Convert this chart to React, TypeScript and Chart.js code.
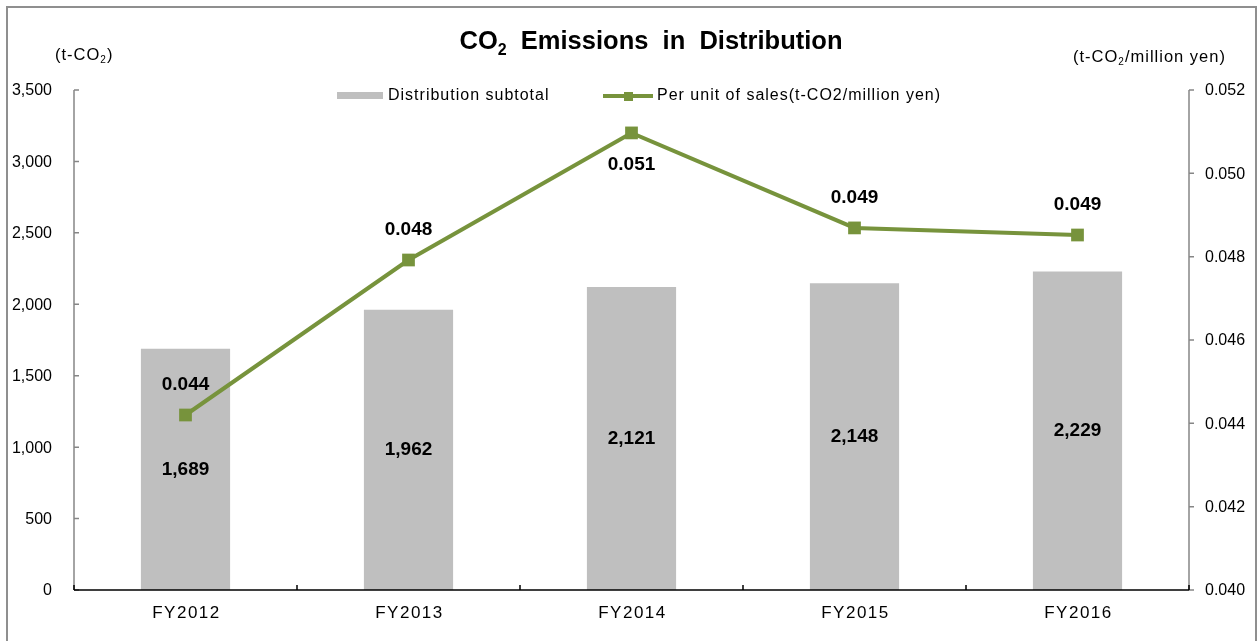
import React, { useEffect, useRef } from "react";
import { Chart, registerables } from "chart.js";

Chart.register(...registerables);

const categories = ["FY2012", "FY2013", "FY2014", "FY2015", "FY2016"];
const distributionSubtotal = [1689, 1962, 2121, 2148, 2229];
const perUnitOfSales = [0.0442, 0.04792, 0.05097, 0.04869, 0.04852];
const lineLabelSide = ["above", "above", "below", "above", "above"];
const leftAxisRange = { min: 0, max: 3500, step: 500 };
const rightAxisRange = { min: 0.04, max: 0.052, step: 0.002 };

const FONT = '"Liberation Sans", Arial, sans-serif';
const BAR_COLOR = "#BFBFBF";
const LINE_COLOR = "#77933C";
const AXIS_GRAY = "#868686";

type Part = { text: string; sub?: boolean };

function drawRich(
  ctx: CanvasRenderingContext2D,
  parts: Part[],
  x: number,
  y: number,
  size: number,
  weight: string,
  align: "left" | "center",
  spacing: number
) {
  const subSize = Math.round(size * 0.62);
  (ctx as any).letterSpacing = `${spacing}px`;
  const widths = parts.map((p) => {
    ctx.font = `${weight} ${p.sub ? subSize : size}px ${FONT}`;
    return ctx.measureText(p.text).width;
  });
  const total = widths.reduce((a, b) => a + b, 0);
  let cx = align === "center" ? x - total / 2 : x;
  ctx.textAlign = "left";
  ctx.textBaseline = "middle";
  parts.forEach((p, i) => {
    ctx.font = `${weight} ${p.sub ? subSize : size}px ${FONT}`;
    ctx.fillText(p.text, cx, p.sub ? y + size * 0.32 : y);
    cx += widths[i];
  });
  (ctx as any).letterSpacing = "0px";
}

const decorPlugin = {
  id: "decor",
  afterDatasetsDraw(chart: any) {
    const ctx: CanvasRenderingContext2D = chart.ctx;
    const { chartArea } = chart;
    const xs = chart.scales.x;
    const yL = chart.scales.y;
    const yR = chart.scales.y1;
    ctx.save();

    // axes
    ctx.lineWidth = 1.5;
    ctx.strokeStyle = AXIS_GRAY;
    ctx.beginPath();
    ctx.moveTo(chartArea.left, chartArea.top);
    ctx.lineTo(chartArea.left, chartArea.bottom);
    ctx.moveTo(chartArea.right, chartArea.top);
    ctx.lineTo(chartArea.right, chartArea.bottom);
    yL.ticks.forEach((t: any) => {
      const py = yL.getPixelForValue(t.value);
      ctx.moveTo(chartArea.left, py);
      ctx.lineTo(chartArea.left + 5, py);
    });
    yR.ticks.forEach((t: any) => {
      const py = yR.getPixelForValue(t.value);
      ctx.moveTo(chartArea.right, py);
      ctx.lineTo(chartArea.right + 5, py);
    });
    ctx.stroke();

    ctx.strokeStyle = "#000";
    ctx.beginPath();
    ctx.moveTo(chartArea.left, chartArea.bottom);
    ctx.lineTo(chartArea.right, chartArea.bottom);
    const catW = (chartArea.right - chartArea.left) / categories.length;
    for (let i = 0; i <= categories.length; i++) {
      const px = chartArea.left + i * catW;
      ctx.moveTo(px, chartArea.bottom);
      ctx.lineTo(px, chartArea.bottom - 5);
    }
    ctx.stroke();

    // tick labels
    ctx.fillStyle = "#000";
    ctx.font = `16px ${FONT}`;
    ctx.textBaseline = "middle";
    ctx.textAlign = "right";
    yL.ticks.forEach((t: any) => {
      ctx.fillText(
        t.value.toLocaleString("en-US"),
        chartArea.left - 22,
        yL.getPixelForValue(t.value) + 1
      );
    });
    ctx.textAlign = "left";
    yR.ticks.forEach((t: any) => {
      ctx.fillText(
        t.value.toFixed(3),
        chartArea.right + 16,
        yR.getPixelForValue(t.value) + 1
      );
    });
    ctx.textAlign = "center";
    ctx.font = `17px ${FONT}`;
    (ctx as any).letterSpacing = "1.5px";
    categories.forEach((c, i) => {
      ctx.fillText(c, xs.getPixelForValue(i) + 1, chartArea.bottom + 23);
    });
    (ctx as any).letterSpacing = "0px";

    // title
    ctx.fillStyle = "#000";
    drawRich(
      ctx,
      [
        { text: "CO" },
        { text: "2", sub: true },
        { text: "  Emissions  in  Distribution" },
      ],
      643,
      34,
      25.5,
      "bold",
      "center",
      0
    );
    // units
    drawRich(
      ctx,
      [{ text: "(t-CO" }, { text: "2", sub: true }, { text: ")" }],
      47,
      47,
      16.5,
      "normal",
      "left",
      1
    );
    drawRich(
      ctx,
      [
        { text: "(t-CO" },
        { text: "2", sub: true },
        { text: "/million yen)" },
      ],
      1065,
      49,
      16.5,
      "normal",
      "left",
      1
    );

    // legend
    ctx.fillStyle = BAR_COLOR;
    ctx.fillRect(329, 84, 46, 7);
    ctx.strokeStyle = LINE_COLOR;
    ctx.lineWidth = 4;
    ctx.beginPath();
    ctx.moveTo(595, 88);
    ctx.lineTo(645, 88);
    ctx.stroke();
    ctx.fillStyle = LINE_COLOR;
    ctx.fillRect(616, 84, 9, 9);
    ctx.fillStyle = "#000";
    drawRich(ctx, [{ text: "Distribution subtotal" }], 380, 88, 16, "normal", "left", 1);
    drawRich(
      ctx,
      [{ text: "Per unit of sales(t-CO2/million yen)" }],
      649,
      88,
      16,
      "normal",
      "left",
      1
    );

    // data labels
    ctx.font = `bold 19px ${FONT}`;
    ctx.textAlign = "center";
    ctx.textBaseline = "middle";
    const barMeta = chart.getDatasetMeta(0);
    barMeta.data.forEach((el: any, i: number) => {
      const mid = (el.y + el.base) / 2;
      ctx.fillText(distributionSubtotal[i].toLocaleString("en-US"), el.x, mid);
    });
    const lineMeta = chart.getDatasetMeta(1);
    lineMeta.data.forEach((el: any, i: number) => {
      const dy = lineLabelSide[i] === "above" ? -30 : 32;
      ctx.fillText(perUnitOfSales[i].toFixed(3), el.x, el.y + dy);
    });

    ctx.restore();
  },
};

export default function App() {
  const ref = useRef<HTMLCanvasElement | null>(null);
  useEffect(() => {
    if (!ref.current) return;
    const chart = new Chart(ref.current, {
      type: "bar",
      data: {
        labels: categories,
        datasets: [
          {
            type: "bar",
            label: "Distribution subtotal",
            data: distributionSubtotal,
            backgroundColor: BAR_COLOR,
            barPercentage: 0.4,
            categoryPercentage: 1,
            yAxisID: "y",
            order: 2,
          },
          {
            type: "line",
            label: "Per unit of sales(t-CO2/million yen)",
            data: perUnitOfSales,
            borderColor: LINE_COLOR,
            backgroundColor: LINE_COLOR,
            borderWidth: 4,
            pointStyle: "rect",
            pointRadius: 9,
            pointBorderWidth: 0,
            pointBackgroundColor: LINE_COLOR,
            tension: 0,
            yAxisID: "y1",
            order: 1,
          },
        ],
      },
      options: {
        responsive: true,
        maintainAspectRatio: false,
        animation: false,
        devicePixelRatio: 1,
        layout: { padding: { top: 82, left: 0, right: 0, bottom: 0 } },
        plugins: {
          legend: { display: false },
          title: { display: false },
          tooltip: { enabled: false },
        },
        scales: {
          x: {
            grid: { display: false, drawTicks: false },
            border: { display: false },
            ticks: { display: false },
            afterFit: (s: any) => {
              s.height = 58;
            },
          },
          y: {
            position: "left",
            min: leftAxisRange.min,
            max: leftAxisRange.max,
            ticks: { display: false, stepSize: leftAxisRange.step },
            grid: { display: false, drawTicks: false },
            border: { display: false },
            afterFit: (s: any) => {
              s.width = 66;
            },
          },
          y1: {
            position: "right",
            min: rightAxisRange.min,
            max: rightAxisRange.max,
            ticks: { display: false, stepSize: rightAxisRange.step },
            grid: { display: false, drawTicks: false },
            border: { display: false },
            afterFit: (s: any) => {
              s.width = 66;
            },
          },
        },
      },
      plugins: [decorPlugin],
    } as any);
    return () => chart.destroy();
  }, []);

  return (
    <div
      style={{
        position: "fixed",
        left: 6,
        top: 6,
        width: 1247,
        height: 640,
        border: "2px solid #8f8f8f",
        background: "#fff",
      }}
    >
      <canvas ref={ref} />
    </div>
  );
}
